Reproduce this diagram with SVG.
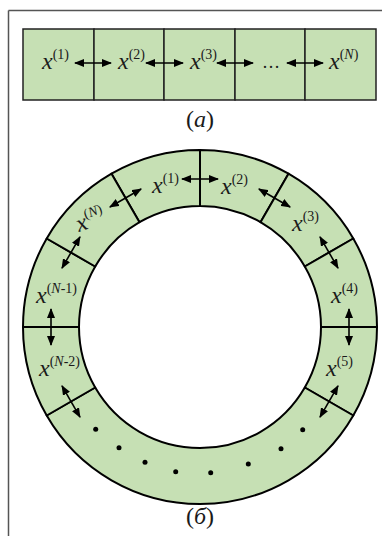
<svg xmlns="http://www.w3.org/2000/svg" width="382" height="536" viewBox="0 0 382 536">
<style>
.cell{fill:#c6e0b4;stroke:#222;stroke-width:1.5}
.seg{fill:#c6e0b4;stroke:#000;stroke-width:2;stroke-linejoin:round}
.lbl{font-family:'Liberation Serif','Times New Roman',serif;font-size:24px;font-style:italic;fill:#1a1a1a}
.sup{font-size:14px;font-style:normal}
.it{font-style:italic}
.cap{font-family:'Liberation Serif','Times New Roman',serif;font-size:24px;fill:#1a1a1a}
.arr{stroke:#000;stroke-width:1.6;fill:none;marker-start:url(#ah);marker-end:url(#ah)}
.dot{fill:#000}
</style>
<defs>
<marker id="ah" viewBox="0 0 10 8" refX="9" refY="4" markerWidth="10" markerHeight="8" markerUnits="userSpaceOnUse" orient="auto-start-reverse">
<path d="M0,0 L10,4 L0,8 Z" fill="#000"/>
</marker>
</defs>
<rect width="382" height="536" fill="#fff"/>
<g id="frame" stroke="#555" stroke-width="1.5" fill="none">
<line x1="8.5" y1="10.5" x2="382" y2="10.5"/>
<line x1="8.5" y1="10.5" x2="8.5" y2="536"/>
</g>

<!-- (a) linear chain -->
<g id="a1"><rect class="cell" x="23" y="29" width="71" height="71"/><text class="lbl" font-family="Liberation Serif, serif" x="42" y="69">x<tspan class="sup" dy="-10">(1)</tspan></text></g>
<g id="a2"><rect class="cell" x="94" y="29" width="70" height="71"/><text class="lbl" font-family="Liberation Serif, serif" x="118" y="69">x<tspan class="sup" dy="-10">(2)</tspan></text></g>
<g id="a3"><rect class="cell" x="164" y="29" width="71" height="71"/><text class="lbl" font-family="Liberation Serif, serif" x="190" y="69">x<tspan class="sup" dy="-10">(3)</tspan></text></g>
<g id="a4"><rect class="cell" x="235" y="29" width="70" height="71"/><text class="lbl" font-family="Liberation Serif, serif" x="262" y="68" style="font-style:normal;font-size:18px">…</text></g>
<g id="aN"><rect class="cell" x="305" y="29" width="71" height="71"/><text class="lbl" font-family="Liberation Serif, serif" x="329" y="69">x<tspan class="sup" dy="-10">(<tspan class="it">N</tspan>)</tspan></text></g>
<text class="cap" font-family="Liberation Serif, serif" x="200" y="127" text-anchor="middle">(<tspan font-style="italic">a</tspan>)</text>

<!-- (б) ring -->
<g id="r1"><path class="seg" d="M111.5,173.71 A177,177 0 0 1 200,150 L200,206 A121,121 0 0 0 139.5,222.21 Z"/><text class="lbl" font-family="Liberation Serif, serif" x="152" y="193">x<tspan class="sup" dy="-10">(1)</tspan></text></g>
<g id="r2"><path class="seg" d="M200,150 A177,177 0 0 1 288.5,173.71 L260.5,222.21 A121,121 0 0 0 200,206 Z"/><text class="lbl" font-family="Liberation Serif, serif" x="221" y="194">x<tspan class="sup" dy="-10">(2)</tspan></text></g>
<g id="r3"><path class="seg" d="M288.5,173.71 A177,177 0 0 1 353.29,238.5 L304.79,266.5 A121,121 0 0 0 260.5,222.21 Z"/><text class="lbl" font-family="Liberation Serif, serif" x="292" y="231">x<tspan class="sup" dy="-10">(3)</tspan></text></g>
<g id="r4"><path class="seg" d="M353.29,238.5 A177,177 0 0 1 377,327 L321,327 A121,121 0 0 0 304.79,266.5 Z"/><text class="lbl" font-family="Liberation Serif, serif" x="331" y="303">x<tspan class="sup" dy="-10">(4)</tspan></text></g>
<g id="r5"><path class="seg" d="M377,327 A177,177 0 0 1 353.29,415.5 L304.79,387.5 A121,121 0 0 0 321,327 Z"/><text class="lbl" font-family="Liberation Serif, serif" x="326" y="376">x<tspan class="sup" dy="-10">(5)</tspan></text></g>
<g id="rdots"><path class="seg" d="M353.29,415.5 A177,177 0 0 1 46.71,415.5 L95.21,387.5 A121,121 0 0 0 304.79,387.5 Z"/>
<circle class="dot" cx="95.7" cy="429.3" r="2.5"/>
<circle class="dot" cx="119" cy="447.7" r="2.5"/>
<circle class="dot" cx="145" cy="462.3" r="2.5"/>
<circle class="dot" cx="175.7" cy="471.7" r="2.5"/>
<circle class="dot" cx="210.7" cy="472.7" r="2.5"/>
<circle class="dot" cx="248.3" cy="464" r="2.5"/>
<circle class="dot" cx="281" cy="448.7" r="2.5"/>
<circle class="dot" cx="302.7" cy="429.7" r="2.5"/>
</g>
<g id="rN2"><path class="seg" d="M46.71,415.5 A177,177 0 0 1 23,327 L79,327 A121,121 0 0 0 95.21,387.5 Z"/><text class="lbl" font-family="Liberation Serif, serif" x="39" y="376">x<tspan class="sup" dy="-10">(<tspan class="it">N</tspan>-2)</tspan></text></g>
<g id="rN1"><path class="seg" d="M23,327 A177,177 0 0 1 46.71,238.5 L95.21,266.5 A121,121 0 0 0 79,327 Z"/><text class="lbl" font-family="Liberation Serif, serif" x="36" y="303">x<tspan class="sup" dy="-10">(<tspan class="it">N</tspan>-1)</tspan></text></g>
<g id="rN"><path class="seg" d="M46.71,238.5 A177,177 0 0 1 111.5,173.71 L139.5,222.21 A121,121 0 0 0 95.21,266.5 Z"/><text class="lbl" font-family="Liberation Serif, serif" x="79" y="232" transform="rotate(-20 79 232)">x<tspan class="sup" dy="-10">(<tspan class="it">N</tspan>)</tspan></text></g>
<text class="cap" font-family="Liberation Serif, serif" x="200" y="524" text-anchor="middle">(<tspan font-style="italic">б</tspan>)</text>

<g id="connectors">
<line class="arr" x1="75" y1="63" x2="111" y2="63"/>
<line class="arr" x1="146" y1="63" x2="183" y2="63"/>
<line class="arr" x1="217" y1="63" x2="253" y2="63"/>
<line class="arr" x1="287" y1="63" x2="323" y2="63"/>
<line class="arr" x1="182" y1="179" x2="218" y2="179"/>
<line class="arr" x1="258.9" y1="189" x2="290.1" y2="207"/>
<line class="arr" x1="320" y1="236.9" x2="338" y2="268.1"/>
<line class="arr" x1="349" y1="309" x2="349" y2="345"/>
<line class="arr" x1="338" y1="385.9" x2="320" y2="417.1"/>
<line class="arr" x1="80" y1="417.1" x2="62" y2="385.9"/>
<line class="arr" x1="51" y1="345" x2="51" y2="309"/>
<line class="arr" x1="62" y1="268.1" x2="80" y2="236.9"/>
<line class="arr" x1="109.9" y1="207" x2="141.1" y2="189"/>
</g>
</svg>
